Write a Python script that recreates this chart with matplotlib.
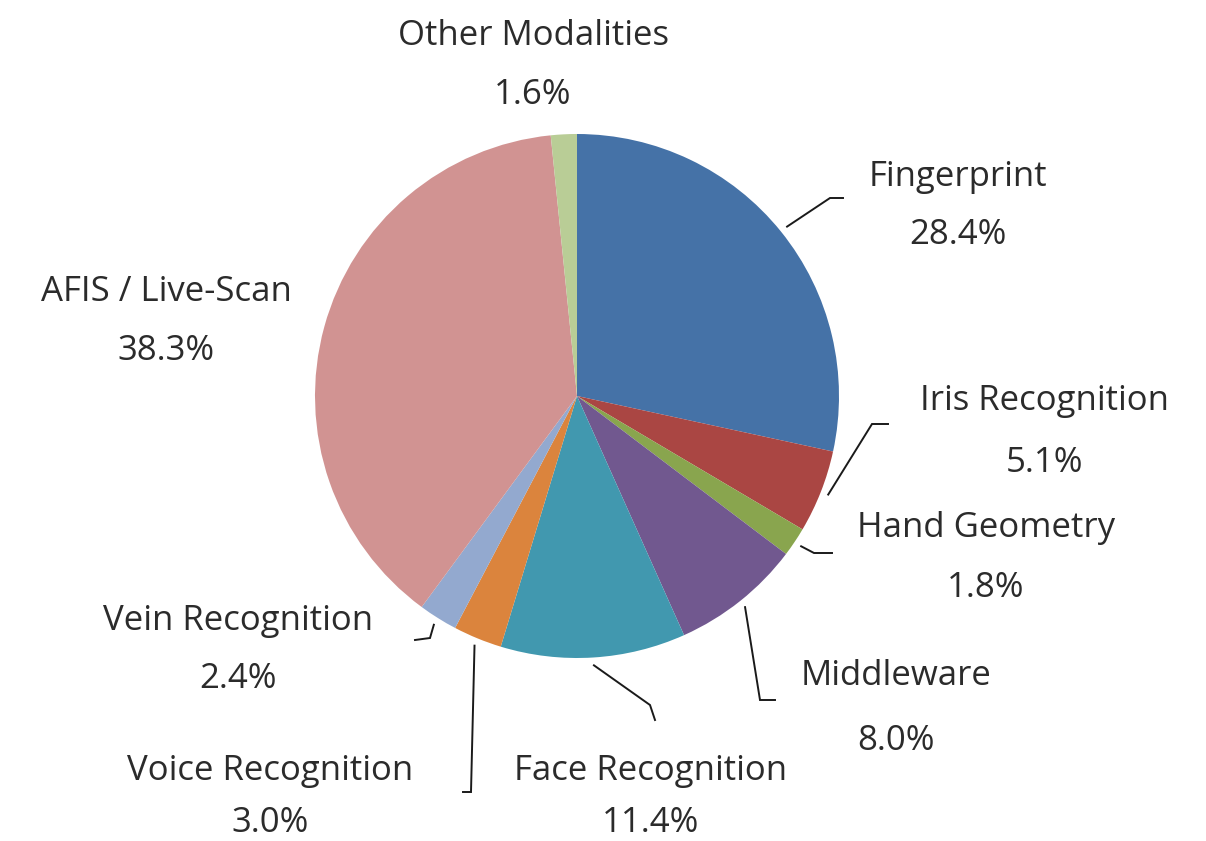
import matplotlib
matplotlib.use("Agg")
import matplotlib.pyplot as plt
import numpy as np

# ---- data ----
categories = ["Fingerprint", "Iris Recognition", "Hand Geometry", "Middleware",
              "Face Recognition", "Voice Recognition", "Vein Recognition",
              "AFIS / Live-Scan", "Other Modalities"]
shares = [28.4, 5.1, 1.8, 8.0, 11.4, 3.0, 2.4, 38.3, 1.6]
value_labels = ["28.4%", "5.1%", "1.8%", "8.0%", "11.4%", "3.0%", "2.4%", "38.3%", "1.6%"]

# ---- style / layout ----
colors = ["#4572A7", "#AA4643", "#89A54E", "#71588F", "#4198AF",
          "#DB843D", "#93A9CF", "#D19392", "#B9CD96"]
W, H = 1206, 841
CX, CY, R = 577, 396, 262          # pie centre / radius in image pixels

def Y(y):
    return H - y

# label layout (image pixel coords): centre x, baseline of name, baseline of value
label_pos = {
    "Fingerprint": (958, 186, 244),
    "Iris Recognition": (1044, 410, 472),
    "Hand Geometry": (986, 537, 597),
    "Middleware": (896, 685, 750),
    "Face Recognition": (651, 780, 832),
    "Voice Recognition": (270, 780, 832),
    "Vein Recognition": (238, 630, 688),
    "AFIS / Live-Scan": (166, 301, 360),
    "Other Modalities": (533, 45, 104),
}
# leader bends (image pixel coords), the first point is taken on the wedge
leader_bends = {
    "Fingerprint": [(830, 198), (843, 198)],
    "Iris Recognition": [(872, 424), (888, 424)],
    "Hand Geometry": [(814, 553), (832, 553)],
    "Middleware": [(760, 700), (775, 700)],
    "Face Recognition": [(650, 705), (655, 720)],
    "Voice Recognition": [(471, 792), (463, 792)],
    "Vein Recognition": [(430, 638), (415, 640)],
}

fig = plt.figure(figsize=(W / 100, H / 100), dpi=100)
ax = fig.add_axes([0, 0, 1, 1])

wedges, _ = ax.pie(shares, colors=colors, startangle=90, counterclock=False,
                   center=(CX, Y(CY)), radius=R, frame=True,
                   wedgeprops=dict(linewidth=0))
ax.set_xlim(0, W)
ax.set_ylim(0, H)
ax.set_aspect("equal")
ax.axis("off")

font = dict(family=["Open Sans", "DejaVu Sans"], fontsize=25, color="#2b2b2b")
for name, val, w in zip(categories, value_labels, wedges):
    x, yb1, yb2 = label_pos[name]
    ax.text(x, Y(yb1), name, ha="center", va="baseline", **font)
    ax.text(x, Y(yb2), val, ha="center", va="baseline", **font)
    if name in leader_bends:
        mid = np.deg2rad((w.theta1 + w.theta2) / 2)
        sx = CX + R * 1.03 * np.cos(mid)
        sy = Y(CY) + R * 1.03 * np.sin(mid)
        pts = [(sx, sy)] + [(px, Y(py)) for px, py in leader_bends[name]]
        xs, ys = zip(*pts)
        ax.plot(xs, ys, color="#1a1a1a", lw=1.4, solid_joinstyle="miter")

fig.savefig("out.png", dpi=100)
